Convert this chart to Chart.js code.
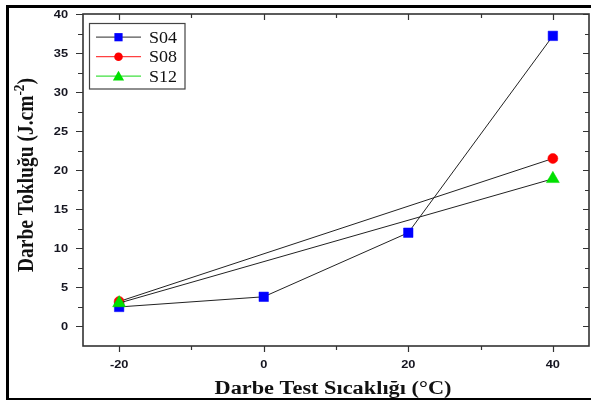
<!DOCTYPE html>
<html><head><meta charset="utf-8">
<script src="https://cdn.jsdelivr.net/npm/chart.js@4.4.1/dist/chart.umd.min.js"></script>
<style>html,body{margin:0;padding:0;background:#fff;}canvas{display:block;}</style>
</head><body>
<canvas id="c" width="591" height="400"></canvas>
<script>
// ---- data ----
const seriesNames = ['S04', 'S08', 'S12'];
const s04X = [-20, 0, 20, 40];
const s04Y = [2.5, 3.8, 12.0, 37.2];
const s08X = [-20, 40];
const s08Y = [3.2, 21.5];
const s12X = [-20, 40];
const s12Y = [3.0, 18.9];
const xMajorTicks = [-20, 0, 20, 40];
const xMinorTicks = [-10, 10, 30];
const yMajorTicks = [0, 5, 10, 15, 20, 25, 30, 35, 40];
const yMinorTicks = [2.5, 7.5, 12.5, 17.5, 22.5, 27.5, 32.5, 37.5];
const xTitle = 'Darbe Test Sıcaklığı (°C)';
const yTitleMain = 'Darbe Tokluğu (J.cm';
const yTitleSup = '-2';
const yTitleEnd = ')';

// ---- styles ----
const markerColors = ['#0000ff', '#ff0000', '#00e000'];
const legendLineColors = ['#555555', '#ff4040', '#40e040'];
const markerStyles = ['rect', 'circle', 'triangle'];
const markerRadius = [6.7, 5, 7.5];

function pts(xs, ys) { return xs.map((x, i) => ({x: x, y: ys[i]})); }

function drawMarker(ctx, style, x, y, r, color) {
  ctx.save();
  ctx.fillStyle = color;
  ctx.beginPath();
  if (style === 'rect') {
    const s = Math.SQRT1_2 * r;
    ctx.rect(x - s, y - s, 2 * s, 2 * s);
  } else if (style === 'circle') {
    ctx.arc(x, y, r, 0, Math.PI * 2);
  } else {
    ctx.moveTo(x, y - r);
    ctx.lineTo(x + r * 0.866, y + r * 0.5);
    ctx.lineTo(x - r * 0.866, y + r * 0.5);
    ctx.closePath();
  }
  ctx.fill();
  ctx.restore();
}

// draw text scaled horizontally to a target width
function fitText(ctx, text, font, x, baseline, targetW, align, color, sy) {
  ctx.save();
  ctx.font = font;
  ctx.fillStyle = color;
  ctx.textBaseline = 'alphabetic';
  const w = ctx.measureText(text).width;
  const sx = targetW ? targetW / w : 1;
  ctx.translate(x, baseline);
  ctx.scale(sx, sy || 1);
  ctx.textAlign = align;
  ctx.fillText(text, 0, 0);
  ctx.restore();
}

const decor = {
  id: 'decor',
  beforeDraw(chart) {
    const ctx = chart.ctx;
    ctx.save();
    ctx.fillStyle = '#fff';
    ctx.fillRect(0, 0, chart.width, chart.height);
    ctx.restore();
  },
  afterDatasetsDraw(chart) {
    const ctx = chart.ctx;
    const a = chart.chartArea;
    const xs = chart.scales.x, ys = chart.scales.y;
    ctx.save();
    // plot frame
    ctx.strokeStyle = '#333';
    ctx.lineWidth = 1.6;
    ctx.strokeRect(a.left, a.top, a.right - a.left, a.bottom - a.top);
    // ticks
    ctx.lineWidth = 1.2;
    ctx.beginPath();
    const tk = (v, len) => {
      const px = Math.round(xs.getPixelForValue(v)) + 0.5;
      ctx.moveTo(px, a.bottom); ctx.lineTo(px, a.bottom + len);   // bottom outward
      ctx.moveTo(px, a.top); ctx.lineTo(px, a.top + len);         // top inward
    };
    xMajorTicks.forEach(v => tk(v, 6));
    xMinorTicks.forEach(v => tk(v, 4));
    const tky = (v, len) => {
      const py = Math.round(ys.getPixelForValue(v)) + 0.5;
      ctx.moveTo(a.left, py); ctx.lineTo(a.left - len - 1, py);   // left outward
      ctx.moveTo(a.right, py); ctx.lineTo(a.right - len, py);     // right inward
    };
    yMajorTicks.forEach(v => tky(v, 6));
    yMinorTicks.forEach(v => tky(v, 4));
    ctx.stroke();

    // tick labels
    const tickFont = 'bold 10px "Liberation Sans", Arial, sans-serif';
    xMajorTicks.forEach(v => {
      const s = String(v);
      ctx.font = tickFont;
      const w = ctx.measureText(s).width * 1.28;
      fitText(ctx, s, tickFont, xs.getPixelForValue(v), 367.5, w, 'center', '#151520');
    });
    yMajorTicks.forEach(v => {
      const s = String(v);
      ctx.font = tickFont;
      const w = ctx.measureText(s).width * 1.28;
      fitText(ctx, s, tickFont, 68, ys.getPixelForValue(v) + 3.6, w, 'right', '#151520');
    });

    // x title
    fitText(ctx, xTitle, 'bold 18px "Liberation Serif", "Times New Roman", serif', (a.left + a.right) / 2 - 3, 394, 237, 'center', '#111');

    // y title (rotated with superscript)
    ctx.save();
    const fMain = 'bold 19px "Liberation Serif", "Times New Roman", serif';
    const fSup = 'bold 13px "Liberation Serif", "Times New Roman", serif';
    ctx.font = fMain;
    const w1 = ctx.measureText(yTitleMain).width;
    const w3 = ctx.measureText(yTitleEnd).width;
    ctx.font = fSup;
    const w2 = ctx.measureText(yTitleSup).width;
    const total = w1 + w2 + w3;
    const sx = 194 / total;
    ctx.translate(33, 175);
    ctx.rotate(-Math.PI / 2);
    ctx.scale(sx, 1.17);
    ctx.fillStyle = '#111';
    ctx.textAlign = 'left';
    ctx.textBaseline = 'alphabetic';
    let x0 = -total / 2;
    ctx.font = fMain; ctx.fillText(yTitleMain, x0, 0); x0 += w1;
    ctx.font = fSup; ctx.fillText(yTitleSup, x0, -8); x0 += w2;
    ctx.font = fMain; ctx.fillText(yTitleEnd, x0, 0);
    ctx.restore();

    // legend
    ctx.strokeStyle = '#444';
    ctx.lineWidth = 1.2;
    ctx.strokeRect(89.5, 23.5, 95.5, 65.5);
    const rowsY = [36.7, 56.2, 75.7];
    const legR = [5.8, 4.3, 6.5];
    seriesNames.forEach((name, i) => {
      const y = rowsY[i];
      ctx.strokeStyle = legendLineColors[i];
      ctx.lineWidth = 1.3;
      ctx.beginPath(); ctx.moveTo(96, y + 0.5); ctx.lineTo(141, y + 0.5); ctx.stroke();
      drawMarker(ctx, markerStyles[i], 118.5, y + (markerStyles[i] === 'triangle' ? 1.5 : 0.5), legR[i], markerColors[i]);
      fitText(ctx, name, '16.5px "Liberation Serif", "Times New Roman", serif', 149, y + 5.8, 28, 'left', '#111');
    });

    // outer border
    ctx.strokeStyle = '#000';
    ctx.lineWidth = 3;
    ctx.beginPath();
    ctx.moveTo(600, 6.5); ctx.lineTo(7.5, 6.5); ctx.lineTo(7.5, 399);
    ctx.stroke();
    ctx.lineWidth = 2;
    ctx.beginPath(); ctx.moveTo(6, 399); ctx.lineTo(600, 399); ctx.stroke();
    ctx.restore();
  }
};

const ds = [
  {x: s04X, y: s04Y}, {x: s08X, y: s08Y}, {x: s12X, y: s12Y}
].map((s, i) => ({
  label: seriesNames[i],
  data: pts(s.x, s.y),
  borderColor: '#222',
  borderWidth: 1,
  pointStyle: markerStyles[i],
  pointRadius: markerRadius[i],
  pointBackgroundColor: markerColors[i],
  pointBorderColor: markerColors[i],
  pointBorderWidth: 0.5,
  showLine: true,
  tension: 0,
  order: 3 - i
}));

new Chart(document.getElementById('c'), {
  type: 'scatter',
  data: { datasets: ds },
  options: {
    responsive: false,
    animation: false,
    events: [],
    layout: { autoPadding: false, padding: { left: 83, top: 14, right: 2, bottom: 54 } },
    plugins: { legend: { display: false }, tooltip: { enabled: false } },
    scales: {
      x: {
        type: 'linear', min: -25, max: 45,
        grid: { display: false, drawTicks: false },
        border: { display: false },
        ticks: { display: false },
        afterFit(s) { s.height = 0; }
      },
      y: {
        type: 'linear', min: -2.5, max: 40,
        grid: { display: false, drawTicks: false },
        border: { display: false },
        ticks: { display: false },
        afterFit(s) { s.width = 0; }
      }
    }
  },
  plugins: [decor]
});
</script>
</body></html>
